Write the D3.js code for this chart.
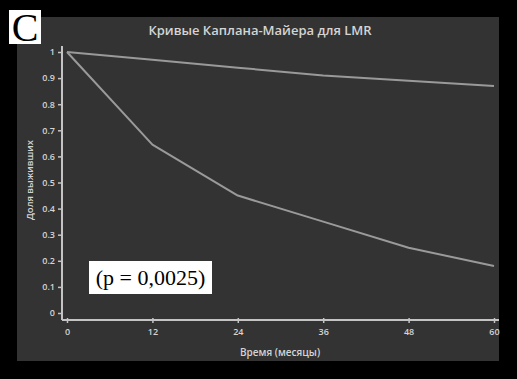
<!DOCTYPE html>
<html><head><meta charset="utf-8">
<script src="https://cdn.jsdelivr.net/npm/d3@7"></script>
<style>
html,body{margin:0;padding:0;background:#000;}
svg{display:block;}
</style></head>
<body>
<svg id="c" width="517" height="379"></svg>
<script>
const months = [0, 12, 24, 36, 48, 60];
const survivalHigh = [1.00, 0.97, 0.94, 0.91, 0.89, 0.87];
const survivalLow = [1.00, 0.645, 0.45, 0.35, 0.25, 0.18];
const yTicks = [0, 0.1, 0.2, 0.3, 0.4, 0.5, 0.6, 0.7, 0.8, 0.9, 1];
const xTicks = [0, 12, 24, 36, 48, 60];
const titleText = "Кривые Каплана-Майера для LMR";
const xTitle = "Время (месяцы)";
const yTitle = "Доля выживших";
const pText = "(p = 0,0025)";
const panelLetter = "C";

const svg = d3.select("#c");
svg.append("rect").attr("x",0).attr("y",0).attr("width",517).attr("height",379).attr("fill","#000");
svg.append("rect").attr("x",17).attr("y",17).attr("width",482).attr("height",344).attr("fill","#333333");

const x = d3.scaleLinear().domain([0,60]).range([67,494]);
const y = d3.scaleLinear().domain([0,1]).range([313,52]);

const axisColor = "#c4c4c4";
const font = "'Open Sans', 'DejaVu Sans', sans-serif";

// y axis (offset left)
const yAxisG = svg.append("g").attr("transform","translate(62,0)")
  .call(d3.axisLeft(y).tickValues(yTicks).tickFormat(d => d3.format("")(d)).tickSize(4).tickSizeOuter(0));
yAxisG.select(".domain").attr("stroke",axisColor).attr("stroke-width",2).attr("d","M0,46V320");
yAxisG.selectAll(".tick line").attr("stroke",axisColor).attr("stroke-width",1.5);
yAxisG.selectAll(".tick text").attr("fill","#d4d4d4").attr("font-family",font).attr("font-size",9).attr("font-weight",600).attr("x",-7);

// x axis (offset down)
const xAxisG = svg.append("g").attr("transform","translate(0,320)")
  .call(d3.axisBottom(x).tickValues(xTicks).tickSize(4).tickSizeOuter(0));
xAxisG.select(".domain").attr("stroke",axisColor).attr("stroke-width",2).attr("d","M62,0H499");
xAxisG.selectAll(".tick line").attr("stroke",axisColor).attr("stroke-width",1.5).attr("y1",-2).attr("y2",3);
xAxisG.selectAll(".tick text").attr("fill","#d4d4d4").attr("font-family",font).attr("font-size",9).attr("font-weight",600).attr("y",9);

// lines
const line = d3.line().x((d,i)=>x(months[i])).y(d=>y(d));
[survivalHigh, survivalLow].forEach(s => {
  svg.append("path").datum(s).attr("d",line).attr("fill","none")
    .attr("stroke","#9a9a9a").attr("stroke-width",2).attr("stroke-linejoin","round");
});

// titles
svg.append("text").attr("x",260).attr("y",35).attr("text-anchor","middle")
  .attr("fill","#d4d4d4").attr("font-family",font).attr("font-size",13).attr("font-weight",600).text(titleText);
svg.append("text").attr("x",280).attr("y",356).attr("text-anchor","middle")
  .attr("fill","#d4d4d4").attr("font-family",font).attr("font-size",10).attr("font-weight",600).text(xTitle);
svg.append("text").attr("transform","translate(33,180) rotate(-90)").attr("text-anchor","middle")
  .attr("fill","#d4d4d4").attr("font-family",font).attr("font-size",9.5).attr("font-weight",600).text(yTitle);

// p value box
svg.append("rect").attr("x",89).attr("y",261).attr("width",123).attr("height",33).attr("fill","#fff");
svg.append("text").attr("x",150.5).attr("y",285).attr("text-anchor","middle")
  .attr("fill","#000").attr("font-family","'Liberation Serif', 'DejaVu Serif', serif").attr("font-size",22).text(pText);

// panel letter
svg.append("rect").attr("x",9).attr("y",10).attr("width",32).attr("height",34).attr("fill","#fff");
svg.append("text").attr("x",25).attr("y",41).attr("text-anchor","middle")
  .attr("fill","#000").attr("font-family","'Liberation Serif', 'DejaVu Serif', serif").attr("font-size",40).text(panelLetter);
</script>
</body></html>
